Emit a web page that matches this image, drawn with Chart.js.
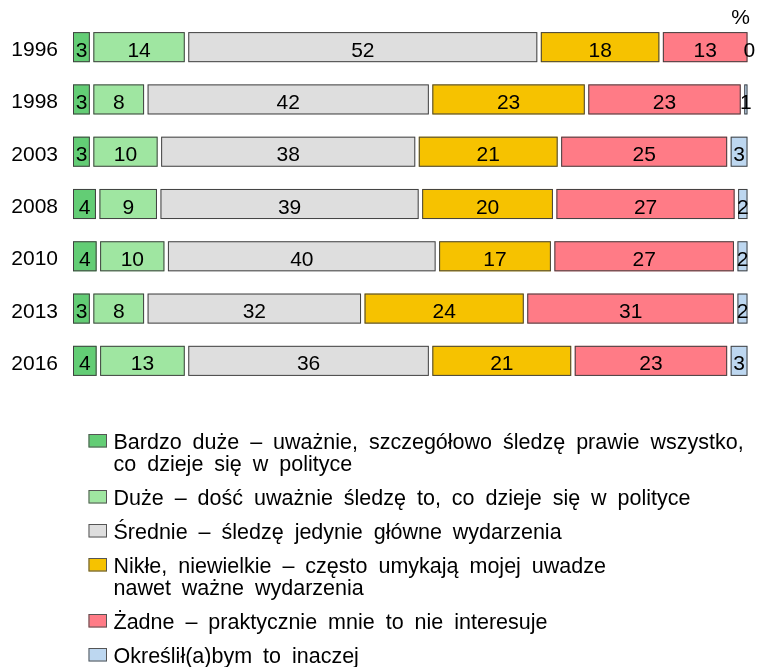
<!DOCTYPE html>
<html><head><meta charset="utf-8">
<script src="https://cdn.jsdelivr.net/npm/chart.js@4.4.1/dist/chart.umd.min.js"></script>
<style>html,body{margin:0;padding:0;background:#fff;}#wrap{width:758px;height:667px;position:relative;}canvas{display:block;}</style>
</head><body><div id="wrap"><canvas id="c" width="758" height="667"></canvas></div>
<script>
const years = ['1996', '1998', '2003', '2008', '2010', '2013', '2016'];
const bardzoDuze = [3, 3, 3, 3.9, 4, 3, 4];
const duze = [14, 8, 10, 9.0, 10, 8, 13];
const srednie = [52, 42, 38, 38.6, 40, 32, 36];
const nikle = [18, 23, 21, 19.8, 17, 24, 21];
const zadne = [13, 23, 25, 26.8, 27, 31, 23];
const inaczej = [0, 1, 3, 1.9, 2, 2, 3];
const seriesLabels = [
  ['Bardzo duże – uważnie, szczegółowo śledzę prawie wszystko,', 'co dzieje się w polityce'],
  ['Duże – dość uważnie śledzę to, co dzieje się w polityce'],
  ['Średnie – śledzę jedynie główne wydarzenia'],
  ['Nikłe, niewielkie – często umykają mojej uwadze', 'nawet ważne wydarzenia'],
  ['Żadne – praktycznie mnie to nie interesuje'],
  ['Określił(a)bym to inaczej']
];
const unitLabel = '%';
const colors = ['#63cd75', '#9fe6a1', '#dedede', '#f6c200', '#ff7b86', '#bdd7f0'];
const borderCol = '#404040';
const FONT = '"Liberation Sans", Arial, sans-serif';
const series = [bardzoDuze, duze, srednie, nikle, zadne, inaczej];

const customBars = {
  id: 'customBars',
  beforeDatasetDraw(chart, args) {
    const ctx = chart.ctx;
    const meta = args.meta;
    const ds = chart.data.datasets[args.index];
    ctx.save();
    meta.data.forEach((el) => {
      const p = el.getProps(['x', 'y', 'base', 'height'], true);
      const l = Math.min(p.base, p.x) + 1;
      const r = Math.max(p.base, p.x) - 2.5;
      if (r - l < 1) return;
      const t = p.y - p.height / 2, b = p.y + p.height / 2;
      ctx.fillStyle = ds.backgroundColor;
      ctx.fillRect(l, t, r - l, b - t);
      ctx.strokeStyle = borderCol;
      ctx.lineWidth = 1;
      ctx.strokeRect(l + 0.5, t + 0.5, r - l - 1, b - t - 1);
    });
    ctx.restore();
    return false;
  },
  afterDatasetsDraw(chart) {
    const ctx = chart.ctx;
    ctx.save();
    ctx.font = '21px ' + FONT;
    ctx.fillStyle = '#000';
    ctx.textAlign = 'center';
    ctx.textBaseline = 'alphabetic';
    chart.data.datasets.forEach((ds, i) => {
      chart.getDatasetMeta(i).data.forEach((el, j) => {
        const p = el.getProps(['x', 'y', 'base'], true);
        const v = ds.data[j];
        ctx.fillText(String(Math.round(v)), (p.x + p.base) / 2 - 0.7, p.y + 9.5);
      });
    });
    // category labels, placed by the y scale
    const ys = chart.scales.y;
    ctx.textAlign = 'right';
    chart.data.labels.forEach((lab, j) => {
      ctx.fillText(lab, ys.right - 14, ys.getPixelForValue(j) + 9);
    });
    ctx.fillText(unitLabel, chart.chartArea.right, 24);
    ctx.restore();
  },
  afterDraw(chart) {
    const ctx = chart.ctx;
    ctx.save();
    ctx.font = '21.5px ' + FONT;
    ctx.fillStyle = '#000';
    ctx.textAlign = 'left';
    ctx.textBaseline = 'alphabetic';
    const boxX = 88.5, boxW = 18.5, boxH = 13.5, textX = 113.5;
    const lineH = 22, gap = 34, extraSpace = 5;
    let y = 448.5;
    const sp = ctx.measureText(' ').width;
    chart.data.datasets.forEach((ds, i) => {
      ctx.fillStyle = ds.backgroundColor;
      ctx.fillRect(boxX, y - 1 - boxH, boxW, boxH);
      ctx.strokeStyle = '#555';
      ctx.lineWidth = 1;
      ctx.strokeRect(boxX + 0.5, y - 1 - boxH + 0.5, boxW - 1, boxH - 1);
      ctx.fillStyle = '#000';
      ds.label.forEach((line, k) => {
        let x = textX;
        line.split(' ').forEach((w) => {
          ctx.fillText(w, x, y);
          x += ctx.measureText(w).width + sp + extraSpace;
        });
        if (k < ds.label.length - 1) y += lineH;
      });
      y += gap;
    });
    ctx.restore();
  }
};

new Chart(document.getElementById('c'), {
  type: 'bar',
  data: {
    labels: years,
    datasets: series.map((d, i) => ({
      label: seriesLabels[i],
      data: d,
      backgroundColor: colors[i],
      borderColor: borderCol,
      borderWidth: 1,
      categoryPercentage: 1,
      barPercentage: 0.575
    }))
  },
  options: {
    indexAxis: 'y',
    responsive: false,
    animation: false,
    devicePixelRatio: 1,
    layout: { padding: { left: 0, right: 8, top: 21, bottom: 280 } },
    plugins: { legend: { display: false }, tooltip: { enabled: false } },
    scales: {
      x: { stacked: true, min: 0, max: 100, display: false },
      y: {
        stacked: true,
        grid: { display: false, drawTicks: false },
        border: { display: false },
        ticks: { display: false },
        afterFit(s) { s.width = 72; s.paddingTop = 0; s.paddingBottom = 0; }
      }
    }
  },
  plugins: [customBars]
});
</script>
</body></html>
